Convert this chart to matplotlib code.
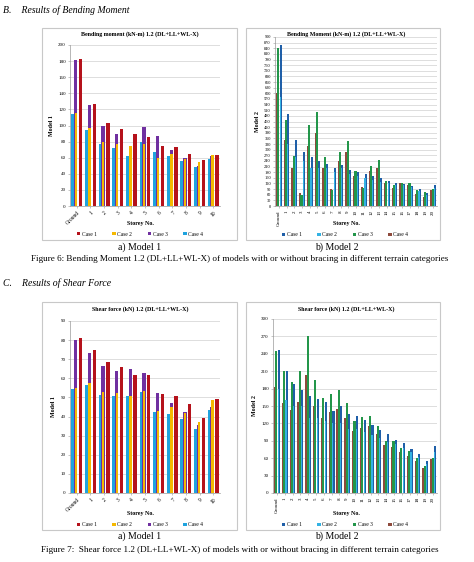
import matplotlib
matplotlib.use("Agg")
import matplotlib.pyplot as plt
from matplotlib.patches import Rectangle, Patch
import numpy as np

plt.rcParams['font.family'] = ['Liberation Serif', 'DejaVu Serif']

# ---------------- data ----------------
m1_labels = ["Ground"] + [str(i) for i in range(1, 11)]
m2_labels = ["Ground"] + [str(i) for i in range(1, 21)]

# Bending moment, Model 1
bm1_case1 = [182, 127, 103, 96, 89, 86, 74, 73, 65, 57, 63]
bm1_case2 = [116, 97, 80, 77, 74, 77, 60, 64, 59, 55, 63]
bm1_case3 = [181, 126, 100, 89, 71, 98, 87, 70, 60, 50, 62]
bm1_case4 = [114, 94, 77, 72, 62, 80, 67, 62, 56, 48, 59]

# Bending moment, Model 2
bm2_case1 = [860, 490, 350, 285, 260, 240, 225, 205, 220, 190, 180, 170, 160, 150, 135, 125, 115, 105, 90, 70, 110]
bm2_case2 = [580, 330, 260, 240, 200, 200, 200, 180, 200, 170, 160, 150, 140, 130, 120, 110, 110, 100, 80, 60, 95]
bm2_case3 = [840, 460, 265, 60, 430, 500, 260, 85, 290, 345, 185, 95, 215, 245, 135, 110, 120, 120, 85, 75, 90]
bm2_case4 = [600, 350, 200, 70, 320, 390, 200, 90, 240, 285, 160, 100, 185, 205, 125, 95, 120, 110, 65, 50, 85]

# Shear force, Model 1
sf1_case1 = [81, 75, 68.5, 66, 62, 62, 52, 50.5, 46.5, 39.5, 49]
sf1_case2 = [55, 57.5, 53, 52.5, 50.5, 53.5, 43, 45, 42, 37, 48.5]
sf1_case3 = [80, 73.5, 66.5, 64, 65, 63, 52.5, 47, 42.5, 35.5, 45]
sf1_case4 = [54.5, 56.5, 51.5, 50.5, 51, 53, 42.5, 41.5, 38.5, 33.5, 43.5]

# Shear force, Model 2
sf2_case1 = [247, 210, 188, 178, 167, 162, 157, 142, 150, 137, 132, 126, 117, 108, 101, 91, 86, 76, 68, 55, 81]
sf2_case2 = [180, 160, 150, 150, 130, 130, 125, 120, 120, 110, 110, 105, 100, 95, 88, 85, 78, 70, 62, 50, 70]
sf2_case3 = [245, 210, 192, 210, 270, 195, 163, 170, 178, 155, 124, 131, 133, 116, 90, 89, 78, 72, 60, 47, 60]
sf2_case4 = [183, 155, 143, 157, 203, 150, 130, 140, 145, 130, 107, 112, 115, 102, 82, 80, 70, 64, 55, 43, 58]

case_names = ["Case 1", "Case 2", "Case 3", "Case 4"]
m1_colors = ["#B5121B", "#F5B800", "#7030A0", "#1FA3DE"]
m2_colors = ["#1F5FA8", "#33B2E3", "#23964A", "#8E4A3C"]

W, H = 474, 562
fig = plt.figure(figsize=(W / 100, H / 100), dpi=100)


def rect(x0, y0, x1, y1):
    return [x0 / W, 1 - y1 / H, (x1 - x0) / W, (y1 - y0) / H]


def box(x0, y0, x1, y1):
    fig.patches.append(Rectangle((x0 / W, 1 - y1 / H), (x1 - x0) / W, (y1 - y0) / H,
                                 transform=fig.transFigure, fill=False,
                                 edgecolor="#C8C8C8", lw=0.8))


def ftext(x, y, s, **kw):
    fig.text(x / W, 1 - y / H, s, **kw)


def style_axes(ax, ymax, ystep, labels, rot, ylabel, title, title_y_px, cx_px, xlabel_y_px):
    ax.set_ylim(0, ymax)
    ax.set_yticks(np.arange(0, ymax + 0.1, ystep))
    ax.set_xlim(-0.5, len(labels) - 0.5)
    ax.set_xticks(np.arange(len(labels)))
    if rot == 45:
        ax.set_xticklabels(labels, rotation=45, ha="right", rotation_mode="anchor", fontsize=4)
    else:
        ax.set_xticklabels(labels, rotation=90, fontsize=3.6)
    ax.tick_params(axis="y", labelsize=3.6, length=1.5, width=0.4, pad=1.5, color="#999999")
    ax.tick_params(axis="x", length=1.5, width=0.4, pad=1.5, color="#999999")
    ax.grid(axis="y", color="#D0D0D0", lw=0.5)
    ax.set_axisbelow(True)
    for s in ["top", "right"]:
        ax.spines[s].set_visible(False)
    for s in ["left", "bottom"]:
        ax.spines[s].set_color("#9A9A9A")
        ax.spines[s].set_linewidth(0.5)
    ax.set_ylabel(ylabel, fontsize=4.3, fontweight="bold", labelpad=3)
    ftext(cx_px, title_y_px, title, fontsize=4.3, fontweight="bold", ha="center", va="center")
    ftext(cx_px, xlabel_y_px, "Storey No.", fontsize=4.3, fontweight="bold", ha="center", va="center")


def model1_bars(ax, c1, c2, c3, c4):
    x = np.arange(len(c1))
    w = 0.25
    ax.bar(x - 0.275, c4, w, color=m1_colors[3], zorder=2)
    ax.bar(x - 0.075, c3, w, color=m1_colors[2], zorder=2)
    ax.bar(x - 0.06, c2, 0.17, color=m1_colors[1], zorder=3)
    ax.bar(x + 0.275, c1, w, color=m1_colors[0], zorder=2)


def model2_bars(ax, c1, c2, c3, c4):
    x = np.arange(len(c1))
    w = 0.27
    ax.bar(x - 0.24, c4, w, color=m2_colors[3], zorder=2)
    ax.bar(x - 0.065, c3, w, color=m2_colors[2], zorder=3)
    ax.bar(x + 0.24, c1, w, color=m2_colors[0], zorder=2)
    ax.bar(x + 0.17, c2, 0.15, color=m2_colors[1], zorder=3)


def legend(colors, cx_px, cy_px):
    handles = [Patch(facecolor=c, edgecolor="none") for c in colors]
    fig.legend(handles, case_names, loc="center", ncol=4, frameon=False,
               bbox_to_anchor=(cx_px / W, 1 - cy_px / H), fontsize=4,
               handlelength=0.6, handleheight=0.6, handletextpad=0.3, columnspacing=2.8)


# ---------------- section headings ----------------
ftext(3, 10, "B.    Results of Bending Moment", fontsize=7, style="italic", va="center")
ftext(3, 283, "C.    Results of Shear Force", fontsize=7, style="italic", va="center")

# ---------------- top left ----------------
box(42, 28, 237, 240)
ax1 = fig.add_axes(rect(70, 45, 220, 206))
model1_bars(ax1, bm1_case1, bm1_case2, bm1_case3, bm1_case4)
style_axes(ax1, 200, 20, m1_labels, 45, "Model 1",
           "Bending moment (kN-m) 1.2 (DL+LL+WL-X)", 34, 140, 223)
legend(m1_colors, 140, 234)

# ---------------- top right ----------------
box(246, 28, 440, 240)
ax2 = fig.add_axes(rect(275, 37, 437, 206))
model2_bars(ax2, bm2_case1, bm2_case2, bm2_case3, bm2_case4)
style_axes(ax2, 900, 30, m2_labels, 90, "Model 2",
           "Bending Moment (kN-m) 1.2 (DL+LL+WL-X)", 34, 346, 224)
ax2.tick_params(axis="y", labelsize=3.2)
legend(m2_colors, 345, 235)

ftext(140, 247, "a) Model 1", fontsize=7, ha="center", va="center")
ftext(337, 247, "b) Model 2", fontsize=7, ha="center", va="center")
ftext(240, 259, "Figure 6: Bending Moment 1.2 (DL+LL+WL-X) of models with or without bracing in different terrain categories",
      fontsize=6.6, ha="center", va="center")

# ---------------- bottom left ----------------
box(42, 302, 237, 530)
ax3 = fig.add_axes(rect(70, 321, 220, 493))
model1_bars(ax3, sf1_case1, sf1_case2, sf1_case3, sf1_case4)
style_axes(ax3, 90, 10, m1_labels, 45, "Model 1",
           "Shear force (kN) 1.2 (DL+LL+WL-X)", 309, 140, 513)
legend(m1_colors, 140, 525)

# ---------------- bottom right ----------------
box(246, 302, 440, 530)
ax4 = fig.add_axes(rect(273, 319, 437, 493))
model2_bars(ax4, sf2_case1, sf2_case2, sf2_case3, sf2_case4)
style_axes(ax4, 300, 30, m2_labels, 90, "Model 2",
           "Shear force (kN) 1.2 (DL+LL+WL-X)", 309, 346, 514)
legend(m2_colors, 345, 525)

ftext(140, 536, "a) Model 1", fontsize=7, ha="center", va="center")
ftext(337, 536, "b) Model 2", fontsize=7, ha="center", va="center")
ftext(240, 550, "Figure 7:  Shear force 1.2 (DL+LL+WL-X) of models with or without bracing in different terrain categories",
      fontsize=6.6, ha="center", va="center")

fig.savefig("out.png", dpi=100)
